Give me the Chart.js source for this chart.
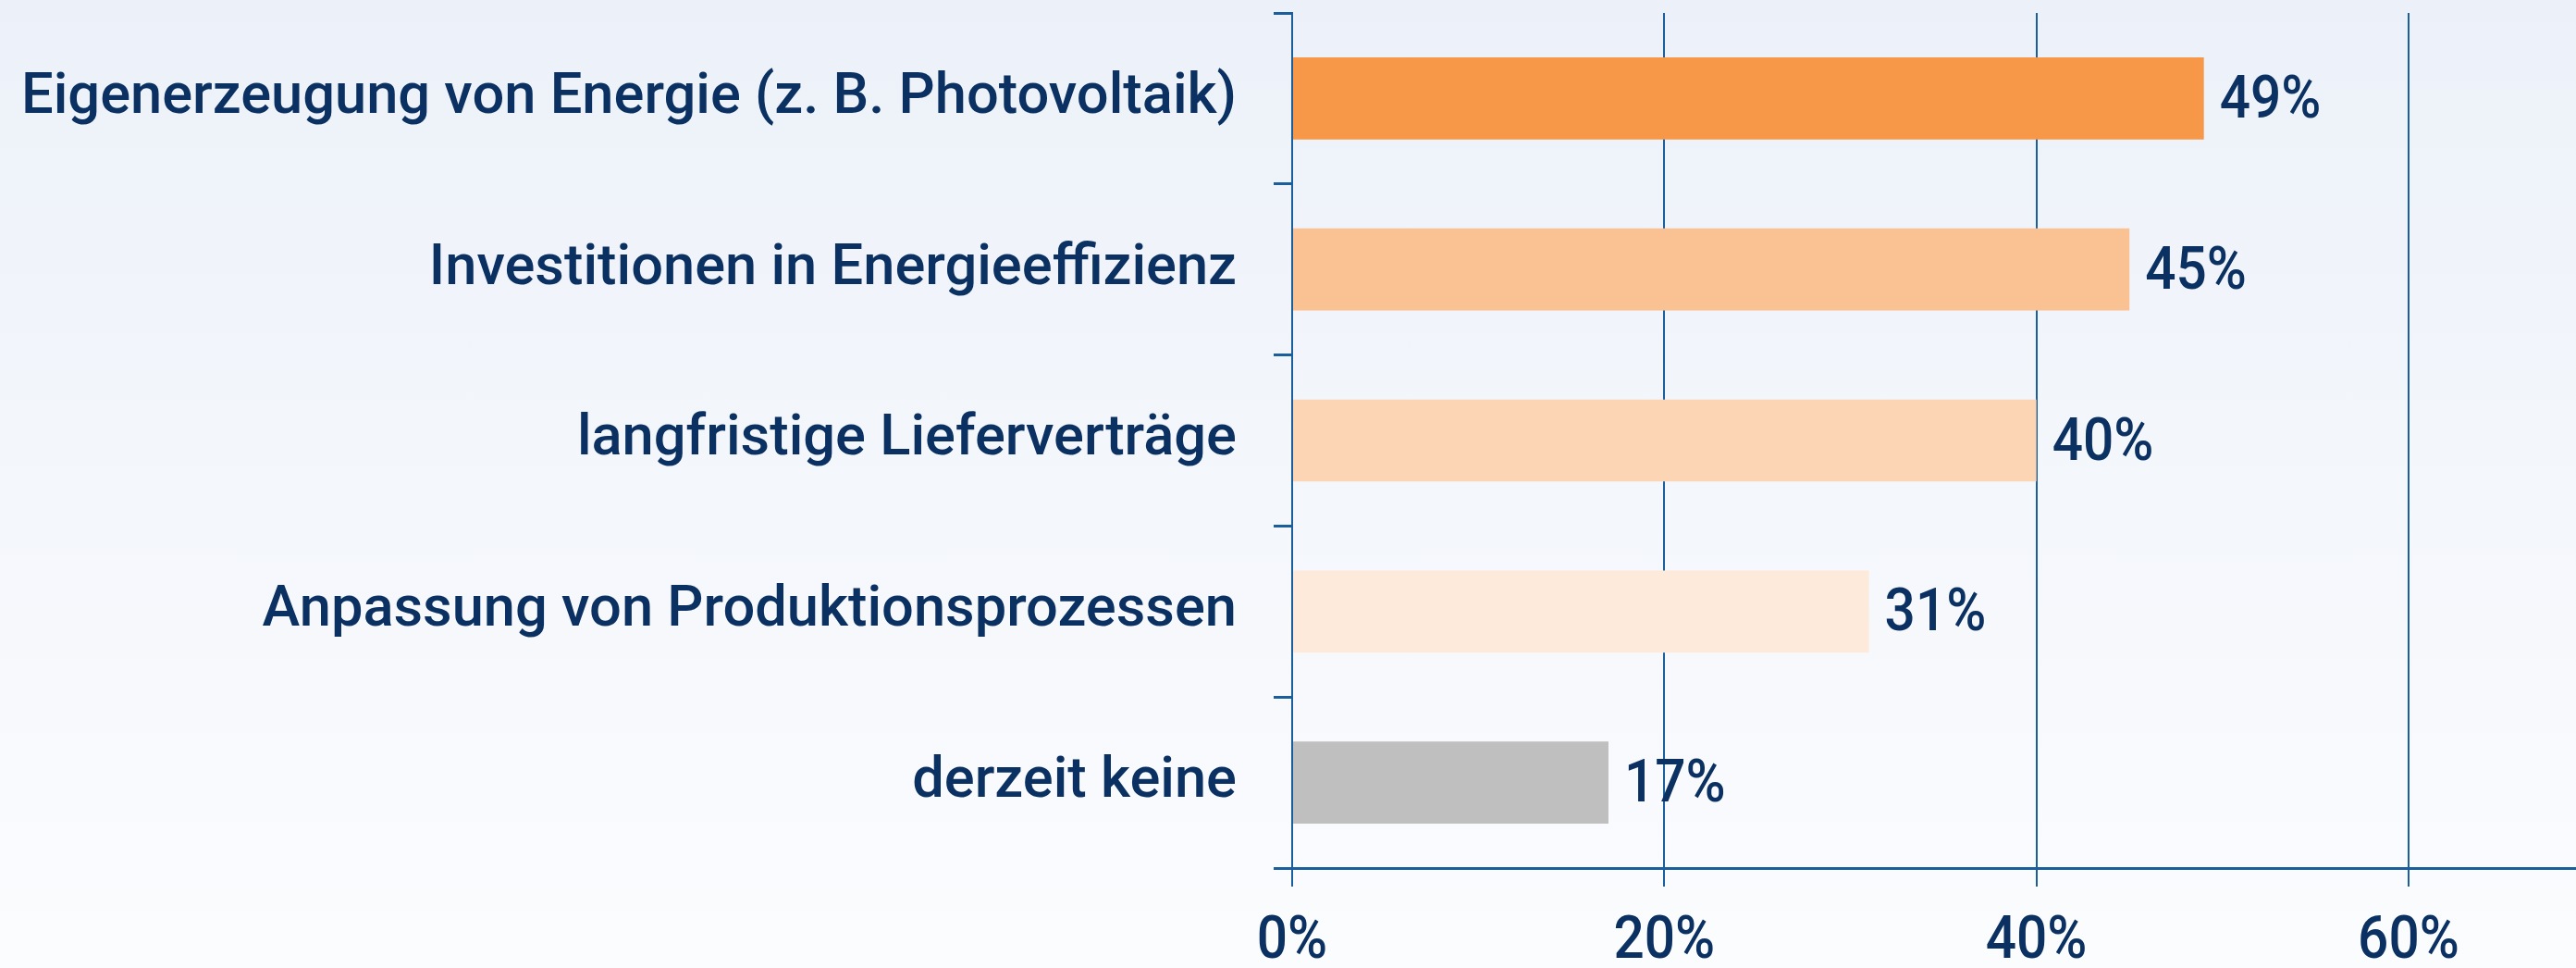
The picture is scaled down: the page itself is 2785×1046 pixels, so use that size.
<!DOCTYPE html>
<html>
<head>
<meta charset="utf-8">
<script src="https://cdn.jsdelivr.net/npm/chart.js@4/dist/chart.umd.min.js"></script>
<style>
  html, body { margin: 0; padding: 0; }
  body {
    width: 2785px; height: 1046px; overflow: hidden;
    background: linear-gradient(to bottom, #ECF1F9 0%, #F3F6FB 45%, #FBFCFE 100%);
  }
  #wrap { position: relative; width: 2785px; height: 1046px; }
</style>
</head>
<body>
<div id="wrap"><canvas id="c"></canvas></div>
<script>
const categories = [
  'Eigenerzeugung von Energie (z. B. Photovoltaik)',
  'Investitionen in Energieeffizienz',
  'langfristige Lieferverträge',
  'Anpassung von Produktionsprozessen',
  'derzeit keine'
];
const values = [49, 45, 40, 31, 17];
const barColors = ['#F79849', '#FAC292', '#FCD5B4', '#FDEADB', '#BFBFBF'];
const xTickValues = [0, 20, 40, 60];

const TEXT = '#0B3162';
const LINE = '#1B5E9C';
const NUM_FONT = '500 64px Roboto, "Liberation Sans", sans-serif';
const NUM_SCALE_X = 0.915;

function drawCondensed(ctx, text, x, y, align) {
  ctx.save();
  ctx.translate(x, y);
  ctx.scale(NUM_SCALE_X, 1);
  ctx.textAlign = align;
  ctx.fillText(text, 0, 0);
  ctx.restore();
}

const customText = {
  id: 'customText',
  afterDraw(chart) {
    const ctx = chart.ctx;
    ctx.save();
    ctx.font = NUM_FONT;
    ctx.fillStyle = TEXT;
    ctx.textBaseline = 'middle';
    // value labels at bar ends
    const meta = chart.getDatasetMeta(0);
    meta.data.forEach((bar, i) => {
      drawCondensed(ctx, values[i] + '%', bar.x + 17, bar.y + 4.5, 'left');
    });
    // x-axis tick labels
    const xs = chart.scales.x;
    xTickValues.forEach(v => {
      drawCondensed(ctx, v + '%', xs.getPixelForValue(v), xs.top + 81, 'center');
    });
    ctx.restore();
  }
};

new Chart(document.getElementById('c'), {
  type: 'bar',
  data: {
    labels: categories,
    datasets: [{
      data: values,
      backgroundColor: barColors,
      borderWidth: 0,
      categoryPercentage: 0.8,
      barPercentage: 0.6
    }]
  },
  options: {
    indexAxis: 'y',
    responsive: true,
    maintainAspectRatio: false,
    animation: false,
    layout: { padding: { top: 14, right: 0, bottom: 0, left: 0 } },
    plugins: { legend: { display: false }, tooltip: { enabled: false } },
    scales: {
      x: {
        min: 0,
        max: 69,
        afterFit(scale) { scale.height = 108; scale.paddingLeft = 0; scale.paddingRight = 0; },
        afterBuildTicks(scale) { scale.ticks = xTickValues.map(v => ({ value: v })); },
        grid: { color: LINE, lineWidth: 2, tickLength: 20, drawTicks: true },
        border: { color: LINE, width: 3 },
        ticks: {
          includeBounds: false,
          stepSize: 20,
          color: 'rgba(0,0,0,0)',
          font: { size: 20 },
          callback: v => v + '%',
          maxRotation: 0
        }
      },
      y: {
        afterFit(scale) { scale.width = 1397; scale.paddingTop = 0; scale.paddingBottom = 0; },
        grid: { color: LINE, lineWidth: 3, drawOnChartArea: false, tickLength: 20, offset: true },
        border: { color: LINE, width: 2 },
        ticks: {
          padding: 40,
          color: TEXT,
          font: { family: 'Roboto, "Liberation Sans", sans-serif', size: 61.4, weight: '500' }
        }
      }
    }
  },
  plugins: [customText]
});
</script>
</body>
</html>
